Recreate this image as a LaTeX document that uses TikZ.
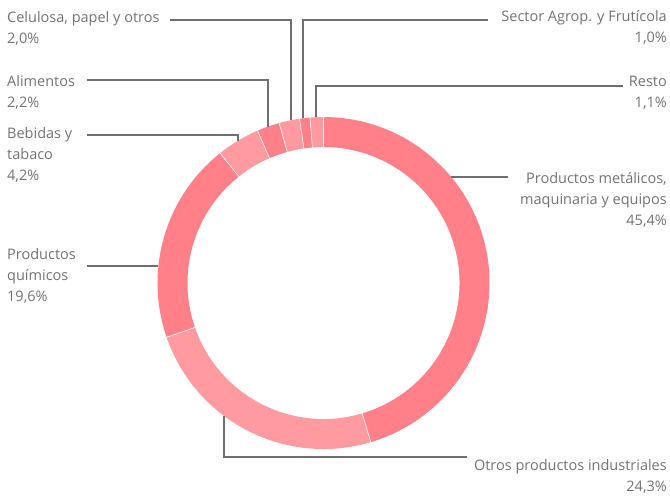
\documentclass[tikz,border=0pt]{standalone}
\usepackage{fontspec}
\setmainfont{Open Sans}
\usepackage{tikz}
\definecolor{pinkdark}{RGB}{255,128,137}
\definecolor{pinklight}{RGB}{255,155,160}
\definecolor{labelgray}{RGB}{115,115,115}
\definecolor{leadergray}{RGB}{112,112,112}

\begin{document}
\begin{tikzpicture}[x=1pt, y=1pt,
    lbl/.style={inner sep=0pt, text=labelgray, font=\fontsize{14.5}{21}\selectfont},
    leader/.style={leadergray, line width=1.3pt}]
    \useasboundingbox (-323.5,-213) rectangle (346.5,283);
    % ring segments, clockwise from the top
    \foreach \s/\e/\c in {90/-73.44/pinkdark, -73.44/-160.92/pinklight,
      -160.92/-231.48/pinkdark, -231.48/-246.6/pinklight, -246.6/-254.52/pinkdark,
      -254.52/-261.72/pinklight, -261.72/-265.32/pinkdark, -265.32/-270/pinklight}{
      \fill[\c] (\s:166) arc[start angle=\s, end angle=\e, radius=166]
        -- (\e:136) arc[start angle=\e, end angle=\s, radius=136] -- cycle;
    }
    \foreach \a in {90,-73.44,-160.92,-231.48,-246.6,-254.52,-261.72,-265.32}{
      \draw[white, line width=.6pt] (\a:135) -- (\a:167);
    }
    % labels
    \node[lbl, anchor=north west, align=left] (cel) at (-316.5,272) {Celulosa, papel y otros\\2,0\%};
    \node[lbl, anchor=north west, align=left] (ali) at (-316.5,208) {Alimentos\\2,2\%};
    \node[lbl, anchor=north west, align=left] (beb) at (-316.5,156) {Bebidas y\\tabaco\\4,2\%};
    \node[lbl, anchor=north west, align=left] (qui) at (-316.5,35) {Productos\\químicos\\19,6\%};
    \node[lbl, anchor=north east, align=right] (sec) at (343.5,273) {Sector Agrop. y Frutícola\\1,0\%};
    \node[lbl, anchor=north east, align=right] (res) at (343.5,207) {Resto\\1,1\%};
    \node[lbl, anchor=north east, align=right] (met) at (343.5,111) {Productos metálicos,\\maquinaria y equipos\\45,4\%};
    \node[lbl, anchor=north east, align=right] (otr) at (343.5,-176) {Otros productos industriales\\24,3\%};
    % leader ends
    \coordinate (cel-end) at (-153.5,263);
    \coordinate (ali-end) at (-236.5,203);
    \coordinate (beb-end) at (-236.5,148);
    \coordinate (qui-end) at (-236.5,17);
    \coordinate (sec-end) at (164.5,263);
    \coordinate (res-end) at (299.5,197);
    \coordinate (met-end) at (184.5,106);
    \coordinate (otr-end) at (143.5,-174);
    \coordinate (cel-ring) at (101.3:166);
    \coordinate (ali-ring) at (109.5:166);
    \coordinate (beb-ring) at (121:166);
    \coordinate (qui-ring) at (174.12:166);
    \coordinate (sec-ring) at (97.1:166);
    \coordinate (res-ring) at (92.6:166);
    \coordinate (met-ring) at (39.7:166);
    \coordinate (otr-ring) at (233.2:166);
    % leaders
    \foreach \n in {cel,ali,beb,sec,res,otr}{
      \draw[leader] (\n-ring) |- (\n-end);
    }
    \draw[leader] (qui-ring) -- (qui-ring -| qui-end);
    \draw[leader] (met-ring) -- (met-ring -| met-end);
\end{tikzpicture}
\end{document}
